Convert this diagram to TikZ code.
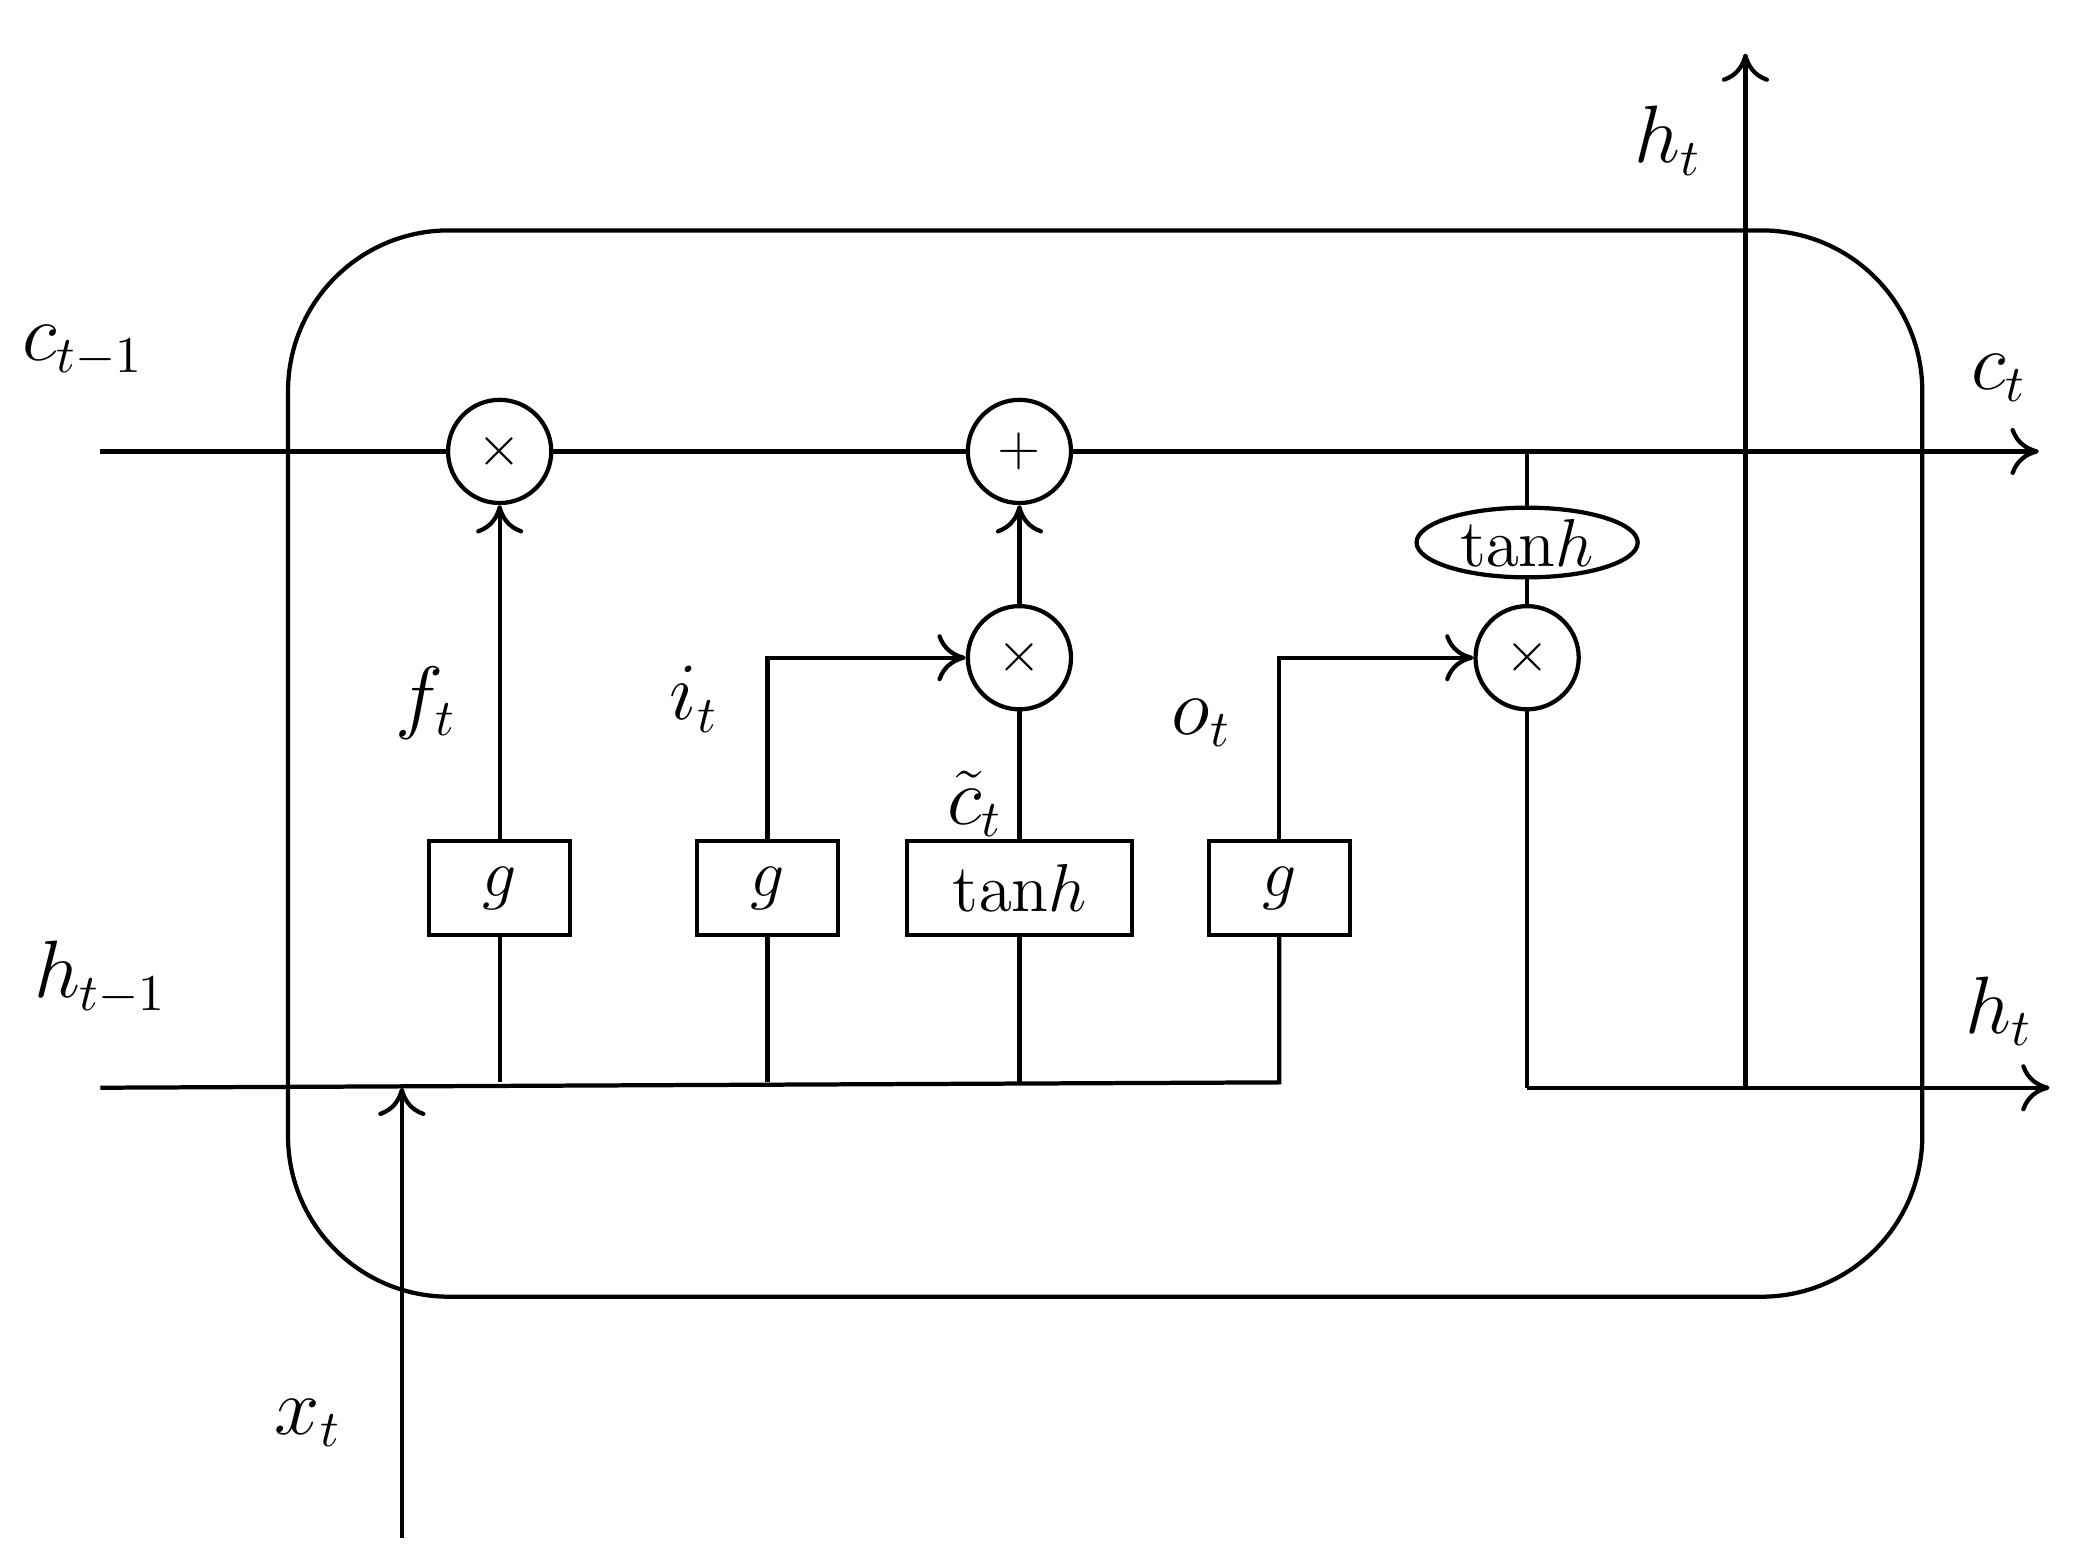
\documentclass[tikz,border=0pt]{standalone}
\usepackage{amsmath}
\usetikzlibrary{arrows.meta,shapes.geometric}
\begin{document}
\begin{tikzpicture}[x=0.01cm,y=-0.01cm,line width=0.9pt,
  op/.style={circle,draw,minimum size=0.77cm,inner sep=0pt,font=\fontsize{13}{15}\selectfont},
  gb/.style={draw,minimum width=1.05cm,minimum height=0.7cm,inner sep=0pt,font=\fontsize{15}{18}\selectfont},
  lab/.style={font=\fontsize{16}{19}\selectfont},
  arr/.style={-{To[length=6pt,width=10pt]}}]
\useasboundingbox (0,0) rectangle (1552,1161);
\draw[rounded corners=1.2cm] (215,172) rectangle (1435,968);
\node[op] (m1) at (373,337) {$\times$};
\node[op] (pl) at (761,337) {$+$};
\node[op] (m2) at (761,491) {$\times$};
\node[op] (m3) at (1140,491) {$\times$};
\node[gb] (g1) at (373,663) {$g$};
\node[gb] (g2) at (573,663) {$g$};
\node[gb,minimum width=1.68cm] (th) at (761,663) {$\mathrm{tan}h$};
\node[gb] (g4) at (955,663) {$g$};
\node[draw,ellipse,minimum width=1.65cm,minimum height=0.52cm,inner sep=0pt,font=\fontsize{15}{18}\selectfont] (te) at (1140,405) {$\mathrm{tan}h$};
\coordinate (cin) at (75,337); \coordinate (cout) at (1522,337);
\coordinate (hin) at (75,812); \coordinate (hend) at (955,808);
\coordinate (xin) at (300,1148); \coordinate (xj) at (300,812);
\coordinate (hb) at (1140,812); \coordinate (hout) at (1530,812);
\coordinate (hj) at (1303,812); \coordinate (htop) at (1303,40);
\coordinate (tj) at (1140,337);
\draw (cin) -- (m1) -- (pl) -- (tj);
\draw[arr] (tj) -- (cout);
\draw (tj) -- (te) -- (m3);
\draw (hin) -- (hend) -- (g4);
\draw[arr] (xin) -- (xj);
\draw (g1.south) -- (g1.south |- hend);
\draw (g2.south) -- (g2.south |- hend);
\draw (th.south) -- (th.south |- hend);
\draw[arr] (g1) -- (m1);
\draw[arr] (g2.north) |- (m2);
\draw (th) -- (m2);
\draw[arr] (m2) -- (pl);
\draw[arr] (g4.north) |- (m3);
\draw (m3) -- (hb);
\draw[arr] (hb) -- (hout);
\draw[arr] (hj) -- (htop);
\node[lab] at (62,262) {$c_{t-1}$};
\node[lab] at (1492,282) {$c_t$};
\node[lab] at (1245,105) {$h_t$};
\node[lab] at (75,730) {$h_{t-1}$};
\node[lab] at (1492,755) {$h_t$};
\node[lab] at (318,525) {$f_t$};
\node[lab] at (518,522) {$i_t$};
\node[lab] at (897,540) {$o_t$};
\node[lab] at (728,600) {$\tilde{c}_t$};
\node[lab] at (230,1062) {$x_t$};
\end{tikzpicture}
\end{document}
